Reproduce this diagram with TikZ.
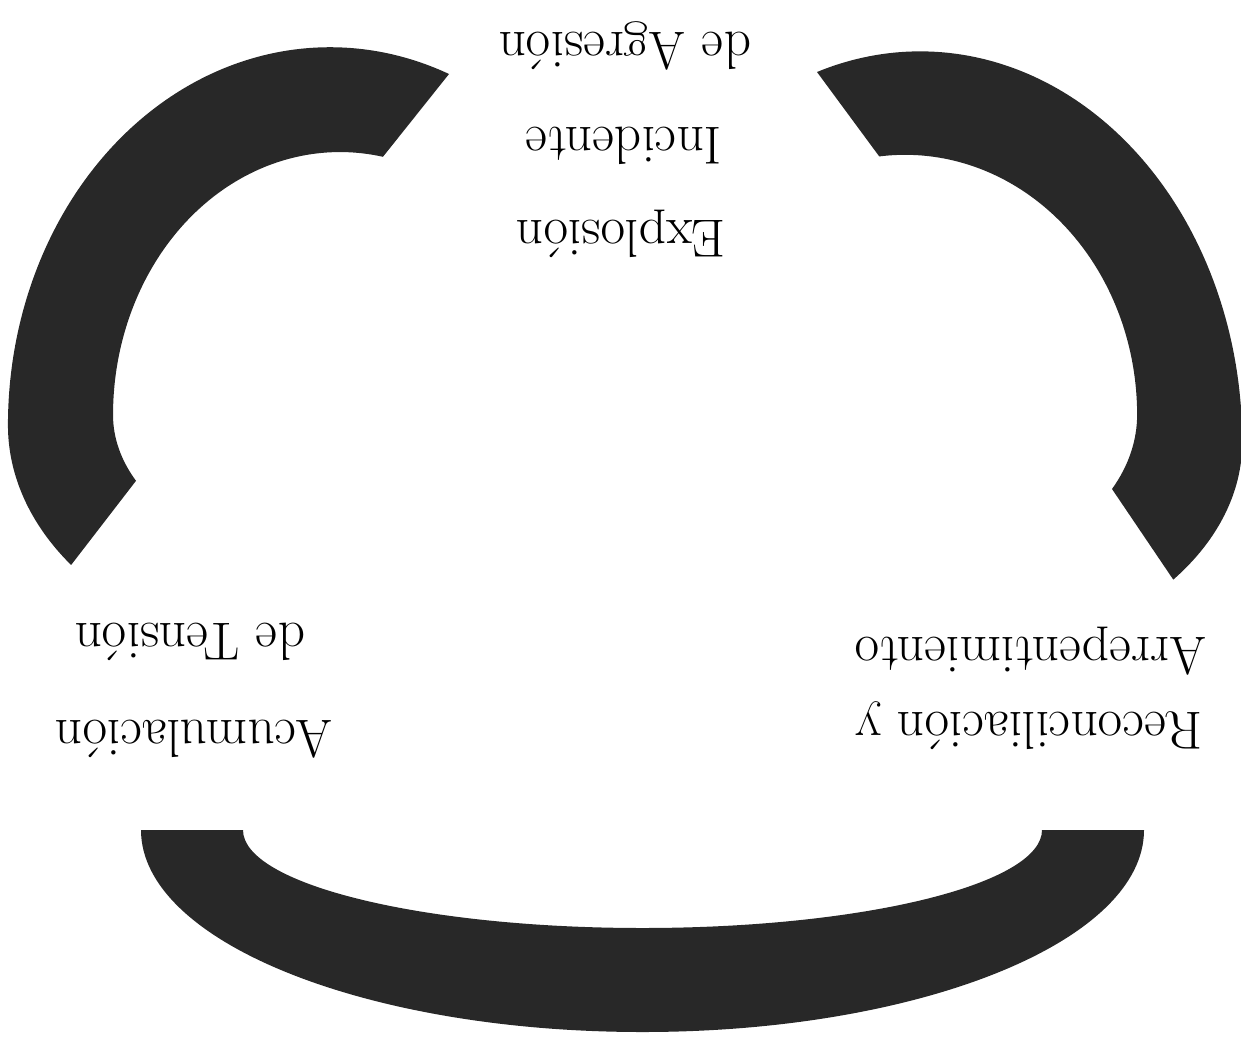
\documentclass[tikz,border=0pt]{standalone}
\usepackage{fontspec}
\usepackage{tikz}
\definecolor{arcgray}{RGB}{40,40,40}
\tikzset{
  band/.style={fill=arcgray},
  lbl/.style={rotate=180, anchor=base, inner sep=0pt, font=\fontsize{53.5}{60}\selectfont, text=black}
}
\begin{document}
\begin{tikzpicture}[x=1pt,y=-1pt]
\path[use as bounding box, fill=white] (0,0) rectangle (1241,1036);

% top-left arc
\fill[band] (449,74)
  arc[start angle=291.7, end angle=180, x radius=322, y radius=378]
  arc[start angle=180, end angle=143.5, x radius=322, y radius=235]
  -- (136,480.8)
  arc[start angle=154, end angle=180, x radius=227, y radius=150]
  arc[start angle=180, end angle=280.9, x radius=227, y radius=263]
  -- cycle;

% top-right arc
\fill[band] (817,72)
  arc[start angle=251.3, end angle=360, x radius=322, y radius=391]
  arc[start angle=0, end angle=38.2, x radius=322, y radius=222]
  -- (1112,489)
  arc[start angle=26.9, end angle=0, x radius=232, y radius=164]
  arc[start angle=0, end angle=-96.4, x radius=232, y radius=260]
  -- cycle;

% bottom arc
\fill[band] (141,830)
  arc[start angle=180, end angle=0, x radius=501.5, y radius=202]
  -- (1042,830)
  arc[start angle=0, end angle=180, x radius=399.5, y radius=98]
  -- cycle;

% labels (printed upside down)
\node[lbl] (agresion) at (625,32) {de Agresi\'{o}n};
\node[lbl] (incidente) at (624,127) {Incidente};
\node[lbl] (explosion) at (621,220) {Explosi\'{o}n};
\node[lbl] (tension) at (190,623) {de Tensi\'{o}n};
\node[lbl] (acumulacion) at (194,720) {Acumulaci\'{o}n};
\node[lbl] (arrep) at (1031,637) {Arrepentimiento};
\node[lbl] (reconc) at (1029,712) {Reconciliaci\'{o}n y};
\end{tikzpicture}
\end{document}
